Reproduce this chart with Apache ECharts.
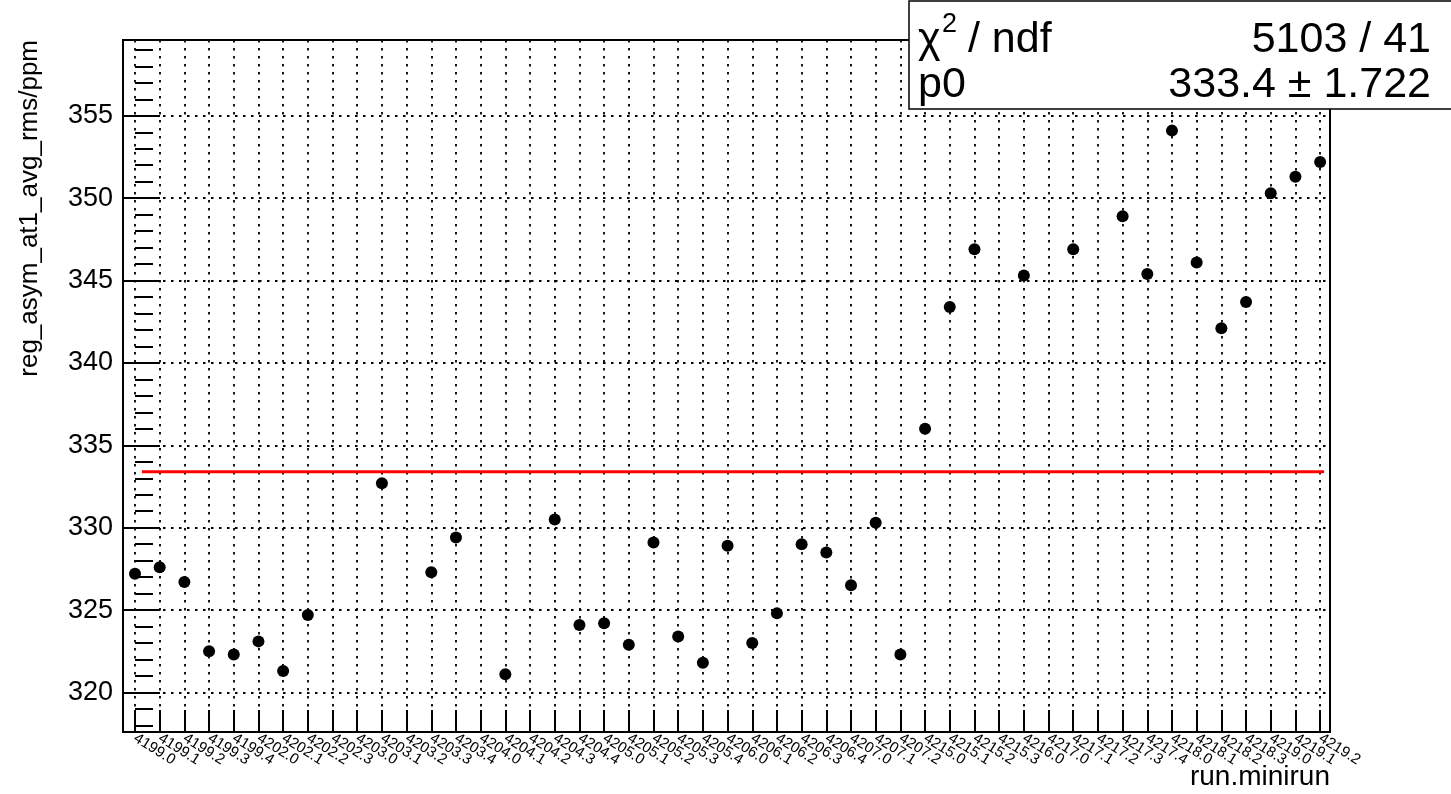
<!DOCTYPE html>
<html>
<head>
<meta charset="utf-8">
<script src="https://cdn.jsdelivr.net/npm/echarts@6/dist/echarts.min.js"></script>
<style>html,body{margin:0;padding:0;background:#fff;}#c{width:1451px;height:794px;}</style>
</head>
<body>
<div id="c"></div>
<script>
// ---- data ----
var categories = [
  '4199.0','4199.1','4199.2','4199.3','4199.4',
  '4202.0','4202.1','4202.2','4202.3',
  '4203.0','4203.1','4203.2','4203.3','4203.4',
  '4204.0','4204.1','4204.2','4204.3','4204.4',
  '4205.0','4205.1','4205.2','4205.3','4205.4',
  '4206.0','4206.1','4206.2','4206.3','4206.4',
  '4207.0','4207.1','4207.2',
  '4215.0','4215.1','4215.2','4215.3',
  '4216.0',
  '4217.0','4217.1','4217.2','4217.3','4217.4',
  '4218.0','4218.1','4218.2','4218.3',
  '4219.0','4219.1','4219.2'
];
var values = [
  327.2, 327.6, 326.7, 322.5, 322.3, 323.1, 321.3, 324.7, null, null,
  332.7, null, 327.3, 329.4, null, 321.1, null, 330.5, 324.1, 324.2,
  322.9, 329.1, 323.4, 321.8, 328.9, 323.0, 324.8, 329.0, 328.5, 326.5,
  330.3, 322.3, 336.0, 343.4, 346.9, null, 345.3, null, 346.9, null,
  348.9, 345.4, 354.1, 346.1, 342.1, 343.7, 350.3, 351.3, 352.2
];
var fitValue = 333.4;
var fitRange = [0.28, 48.16];
var yMajorTicks = [320, 325, 330, 335, 340, 345, 350, 355];
var yRange = [317.6, 359.6];
var xRange = [-0.486, 48.4];
var statsRows = [['χ', '2', ' / ndf', '5103 / 41'], ['p0', '', '', '333.4 ± 1.722']];

// ---- build ----
var pts = [];
for (var i = 0; i < values.length; i++) {
  if (values[i] !== null) pts.push([i, values[i]]);
}
var xTicks = categories.map(function (c, i) { return i; });
var xEven = xTicks.filter(function (i) { return i % 2 === 0; });
var xOdd = xTicks.filter(function (i) { return i % 2 === 1; });
var yMinor = [];
for (var v = Math.ceil(yRange[0]); v <= Math.floor(yRange[1]); v++) {
  if (yMajorTicks.indexOf(v) < 0) yMinor.push(v);
}

var FONT = 'Liberation Sans, Arial, Helvetica, sans-serif';
var dotted = { color: '#000', width: 1.8, type: [2.5, 5.5] };
function xLabel(vals) {
  return {
    show: true, customValues: vals, rotate: -32, margin: 5,
    showMinLabel: true, showMaxLabel: true, hideOverlap: false,
    fontFamily: FONT, fontSize: 15, color: '#000',
    formatter: function (val) { return categories[Math.round(val)] || ''; }
  };
}

var chart = echarts.init(document.getElementById('c'));
chart.setOption({
  animation: false,
  backgroundColor: '#fff',
  grid: { left: 123, right: 121, top: 40, bottom: 62, show: true, borderColor: '#000', borderWidth: 2, backgroundColor: 'transparent' },
  xAxis: [{
    type: 'value', min: xRange[0], max: xRange[1], position: 'bottom',
    axisLine: { show: true, onZero: false, lineStyle: { color: '#000', width: 2 } },
    axisTick: { show: true, inside: true, length: 22, customValues: xTicks, lineStyle: { color: '#000', width: 2 } },
    axisLabel: xLabel(xEven),
    splitLine: { show: true, lineStyle: dotted },
    minorTick: { show: false }
  }, {
    type: 'value', min: xRange[0], max: xRange[1], position: 'bottom', offset: 0,
    axisLine: { show: false },
    axisTick: { show: false },
    axisLabel: xLabel(xOdd),
    splitLine: { show: false }
  }],
  yAxis: [{
    type: 'value', min: yRange[0], max: yRange[1], position: 'left', offset: 0, z: 5,
    axisLine: { show: true, onZero: false, lineStyle: { color: '#000', width: 2 } },
    axisTick: { show: true, inside: true, length: 37, customValues: yMajorTicks, lineStyle: { color: '#000', width: 2 } },
    axisLabel: { show: true, customValues: yMajorTicks, margin: 10, fontFamily: FONT, fontSize: 27, color: '#000' },
    splitLine: { show: true, lineStyle: dotted }
  }, {
    type: 'value', min: yRange[0], max: yRange[1], position: 'left', offset: 0, z: 5,
    axisLine: { show: false },
    axisTick: { show: true, inside: true, length: 18, customValues: yMinor, lineStyle: { color: '#000', width: 2 } },
    axisLabel: { show: false },
    splitLine: { show: false }
  }],
  series: [{
    type: 'line', xAxisIndex: 0, yAxisIndex: 0, data: [[fitRange[0], fitValue], [fitRange[1], fitValue]],
    symbol: 'none', lineStyle: { color: '#ff0000', width: 3 }, z: 2, silent: true
  }, {
    type: 'scatter', xAxisIndex: 0, yAxisIndex: 0, data: pts, symbol: 'circle', symbolSize: 12,
    itemStyle: { color: '#000', opacity: 1 }, z: 3, silent: true
  }],
  graphic: [
    { type: 'text', x: 30, y: 40, rotation: Math.PI / 2,
      style: { text: 'reg_asym_at1_avg_rms/ppm', fontFamily: FONT, fontSize: 26, fill: '#000', align: 'right', verticalAlign: 'middle' } },
    { type: 'text', x: 1330, y: 777,
      style: { text: 'run.minirun', fontFamily: FONT, fontSize: 28, fill: '#000', align: 'right', verticalAlign: 'middle' } },
    { type: 'rect', shape: { x: 909, y: 1, width: 600, height: 108 }, style: { fill: '#fff', stroke: '#000', lineWidth: 1.5 }, z: 100 },
    { type: 'text', x: 918, y: 40, z: 101, style: { text: statsRows[0][0], fontFamily: FONT, fontSize: 43, fill: '#000', verticalAlign: 'middle' } },
    { type: 'text', x: 942, y: 25, z: 101, style: { text: statsRows[0][1], fontFamily: FONT, fontSize: 27, fill: '#000', verticalAlign: 'middle' } },
    { type: 'text', x: 956, y: 40, z: 101, style: { text: statsRows[0][2], fontFamily: FONT, fontSize: 43, fill: '#000', verticalAlign: 'middle' } },
    { type: 'text', x: 1431, y: 40, z: 101, style: { text: statsRows[0][3], fontFamily: FONT, fontSize: 43, fill: '#000', align: 'right', verticalAlign: 'middle' } },
    { type: 'text', x: 918, y: 85, z: 101, style: { text: statsRows[1][0], fontFamily: FONT, fontSize: 43, fill: '#000', verticalAlign: 'middle' } },
    { type: 'text', x: 1431, y: 85, z: 101, style: { text: statsRows[1][3], fontFamily: FONT, fontSize: 43, fill: '#000', align: 'right', verticalAlign: 'middle' } }
  ]
});
</script>
</body>
</html>
